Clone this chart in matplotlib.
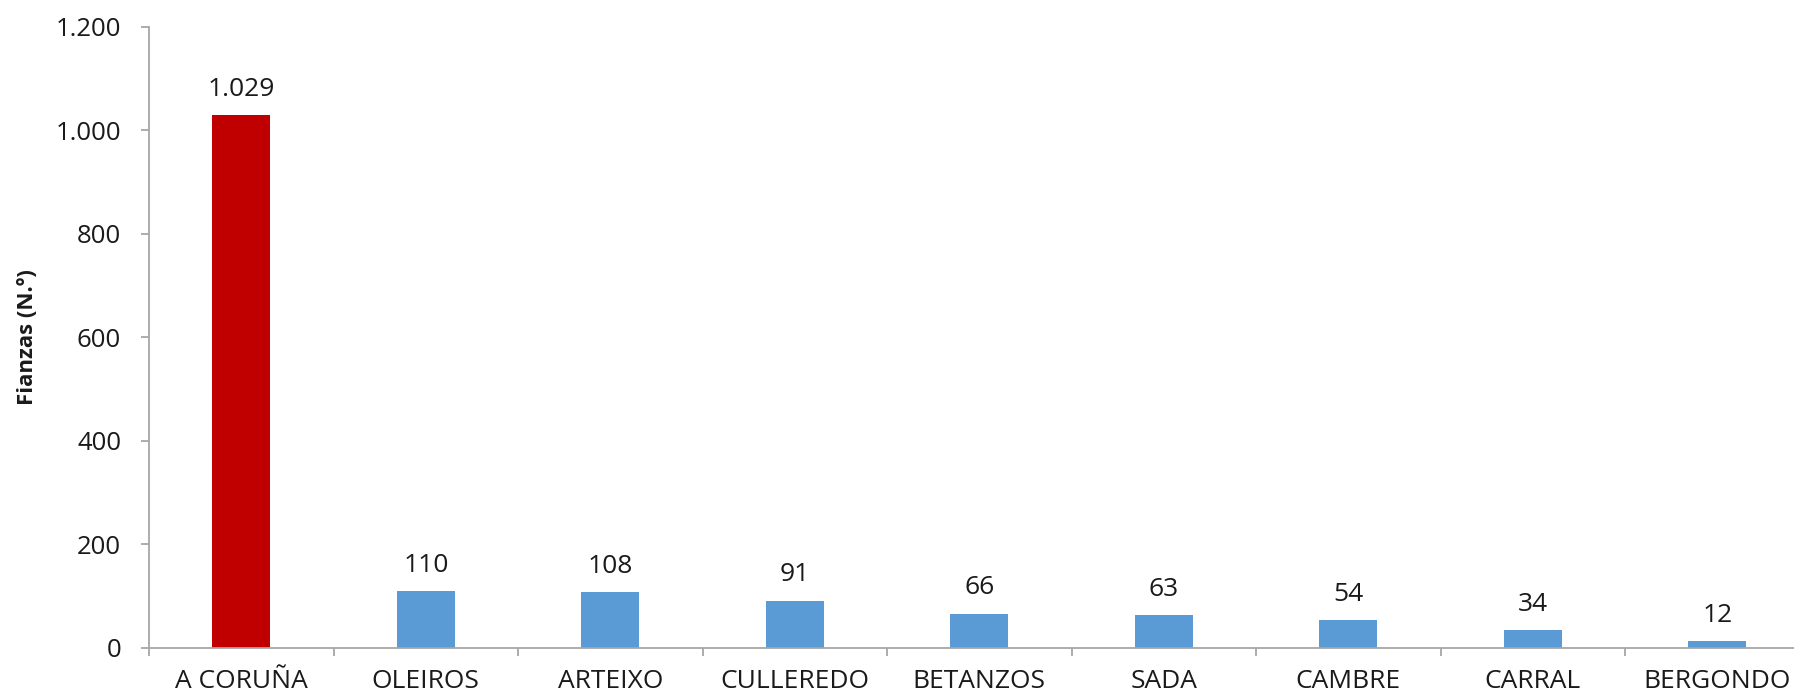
import matplotlib
matplotlib.use("Agg")
import matplotlib.pyplot as plt
from matplotlib.ticker import FuncFormatter, FixedLocator

municipios = ["A CORUÑA", "OLEIROS", "ARTEIXO", "CULLEREDO", "BETANZOS",
              "SADA", "CAMBRE", "CARRAL", "BERGONDO"]
fianzas = [1029, 110, 108, 91, 66, 63, 54, 34, 12]
y_ticks = [0, 200, 400, 600, 800, 1000, 1200]

RED = "#C00000"
BLUE = "#5B9BD5"
AXIS_GREY = "#A6A6A6"
TEXT = "#1a1a1a"

plt.rcParams["font.family"] = ["Open Sans", "DejaVu Sans"]

W, H = 1794, 695
fig = plt.figure(figsize=(W / 100, H / 100), dpi=100)
left, right_edge = 149, 1809.5
top, bottom = 27, 647.7
ax = fig.add_axes([left / W, (H - bottom) / H, (right_edge - left) / W, (bottom - top) / H])

def fmt_miles(v):
    return f"{int(round(v)):,}".replace(",", ".")

colors = [RED] + [BLUE] * (len(fianzas) - 1)
x = list(range(len(municipios)))
ax.bar(x, fianzas, width=0.314, color=colors, zorder=2)

for xi, v in zip(x, fianzas):
    ax.annotate(fmt_miles(v), (xi, v), xytext=(0, 9.5), textcoords="offset points",
                ha="center", va="bottom", fontsize=19, color=TEXT)

ax.set_xlim(-0.5, len(municipios) - 0.5)
ax.set_ylim(0, 1200)
ax.yaxis.set_major_locator(FixedLocator(y_ticks))
ax.yaxis.set_major_formatter(FuncFormatter(lambda v, p: fmt_miles(v)))

ax.set_xticks(x)
ax.set_xticklabels(municipios)
ax.set_xticks([i - 0.5 for i in range(len(municipios) + 1)], minor=True)
ax.tick_params(axis="x", which="major", length=0, pad=15, labelsize=19, labelcolor=TEXT)
ax.tick_params(axis="x", which="minor", length=6, width=1.3, color=AXIS_GREY, direction="out")
ax.tick_params(axis="y", which="major", length=6, width=1.3, color=AXIS_GREY, direction="out",
               pad=14, labelsize=18.5, labelcolor=TEXT)

for side in ("top", "right"):
    ax.spines[side].set_visible(False)
for side in ("left", "bottom"):
    ax.spines[side].set_color(AXIS_GREY)
    ax.spines[side].set_linewidth(1.3)

ax.set_ylabel("Fianzas (N.º)", fontsize=16, fontweight="bold", color=TEXT, labelpad=13)

fig.savefig("out.png", dpi=100, facecolor="white")
